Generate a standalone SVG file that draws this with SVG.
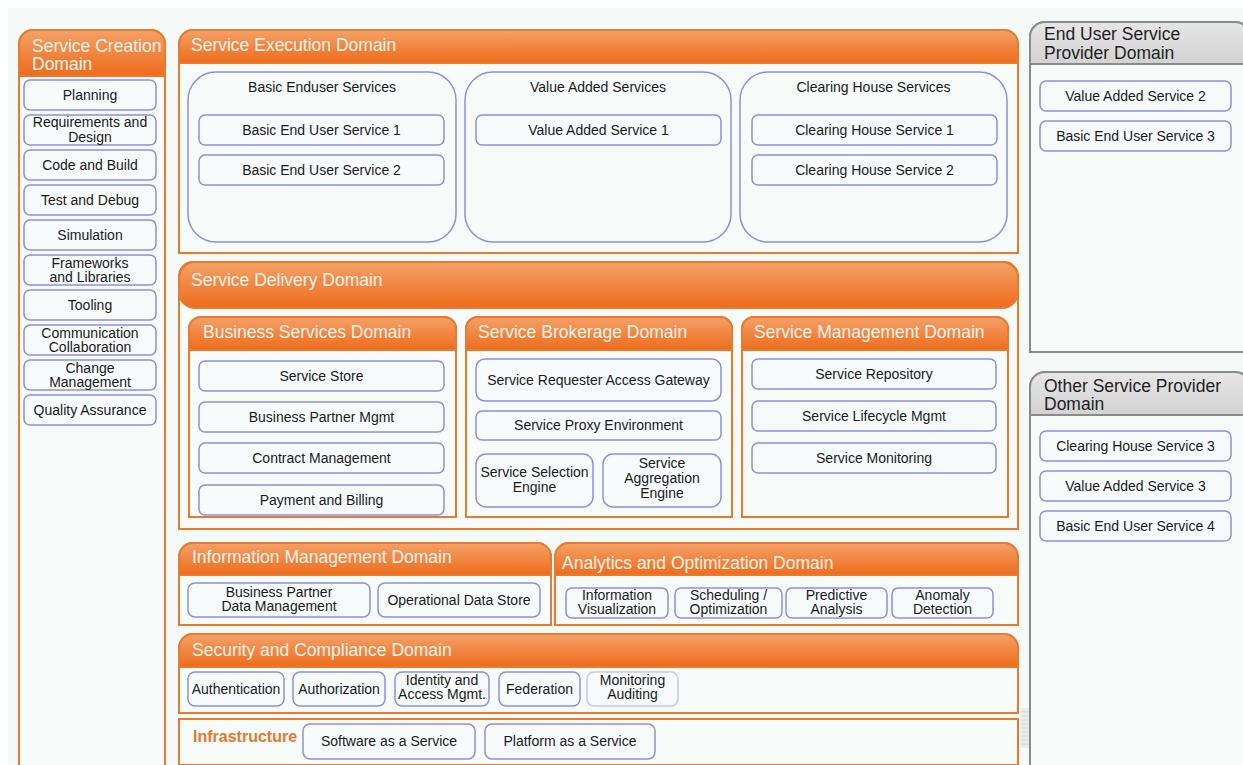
<svg xmlns="http://www.w3.org/2000/svg" width="1243" height="765" viewBox="0 0 1243 765">
  <defs>
    <linearGradient id="orangeHead" x1="0" y1="0" x2="0" y2="1">
      <stop offset="0" stop-color="#f4a168"/>
      <stop offset="1" stop-color="#ed6c1c"/>
    </linearGradient>
    <linearGradient id="grayHead" x1="0" y1="0" x2="0" y2="1">
      <stop offset="0" stop-color="#e6e6e6"/>
      <stop offset="1" stop-color="#d2d2d2"/>
    </linearGradient>
  </defs>
  <style>
    text { font-family: "Liberation Sans", Arial, sans-serif; }
    .body { fill: #f7fbfa; stroke: #ea7a2c; stroke-width: 2; }
    .head { fill: url(#orangeHead); stroke: #ea7a2c; stroke-width: 2; }
    .gbody { fill: #f7fbfa; stroke: #8a8a8a; stroke-width: 2; }
    .ghead { fill: url(#grayHead); stroke: #8a8a8a; stroke-width: 2; }
    .title { fill: #fff4ec; font-size: 17.5px; }
    .gtitle { fill: #1e1e1e; font-size: 17.5px; }
    .node { fill: #f8fbfb; stroke: #8c90e0; stroke-width: 1.5; }
    .node.faint { stroke: #c6c8ec; }
    .grp { fill: #f7fbfa; stroke: #8c90e0; stroke-width: 1.5; }
    .lbl { fill: #1a1a1a; font-size: 14px; text-anchor: middle; }
    .infra { fill: #e8782a; font-size: 16px; font-weight: bold; }
  </style>

  <!-- page -->
  <rect x="0" y="0" width="1243" height="765" fill="#ffffff"/>
  <rect x="8" y="8" width="1235" height="757" fill="#f5f9f7"/>

  <!-- Service Creation Domain -->
  <g id="service-creation">
    <path class="body" d="M19,800 V44 A14,14 0 0 1 33,30 H151 A14,14 0 0 1 165,44 V800 Z"/>
    <path class="head" d="M19,76 V44 A14,14 0 0 1 33,30 H151 A14,14 0 0 1 165,44 V76 Z"/>
    <text class="title" x="32" y="52">Service Creation</text>
    <text class="title" x="32" y="70">Domain</text>
    <g id="planning"><rect class="node" x="24" y="80" width="132" height="30" rx="6"/><text class="lbl" x="90" y="100">Planning</text></g>
    <g id="requirements"><rect class="node" x="24" y="115" width="132" height="30" rx="6"/><text class="lbl" x="90" y="127">Requirements and</text><text class="lbl" x="90" y="142">Design</text></g>
    <g id="code-build"><rect class="node" x="24" y="150" width="132" height="30" rx="6"/><text class="lbl" x="90" y="170">Code and Build</text></g>
    <g id="test-debug"><rect class="node" x="24" y="185" width="132" height="30" rx="6"/><text class="lbl" x="90" y="205">Test and Debug</text></g>
    <g id="simulation"><rect class="node" x="24" y="220" width="132" height="30" rx="6"/><text class="lbl" x="90" y="240">Simulation</text></g>
    <g id="frameworks"><rect class="node" x="24" y="255" width="132" height="30" rx="6"/><text class="lbl" x="90" y="268">Frameworks</text><text class="lbl" x="90" y="282">and Libraries</text></g>
    <g id="tooling"><rect class="node" x="24" y="290" width="132" height="30" rx="6"/><text class="lbl" x="90" y="310">Tooling</text></g>
    <g id="communication"><rect class="node" x="24" y="325" width="132" height="30" rx="6"/><text class="lbl" x="90" y="338">Communication</text><text class="lbl" x="90" y="352">Collaboration</text></g>
    <g id="change"><rect class="node" x="24" y="360" width="132" height="30" rx="6"/><text class="lbl" x="90" y="373">Change</text><text class="lbl" x="90" y="387">Management</text></g>
    <g id="quality"><rect class="node" x="24" y="395" width="132" height="30" rx="6"/><text class="lbl" x="90" y="415">Quality Assurance</text></g>
  </g>

  <!-- Service Execution Domain -->
  <g id="service-execution">
    <path class="body" d="M179,253 V44 A14,14 0 0 1 193,30 H1004 A14,14 0 0 1 1018,44 V253 Z"/>
    <path class="head" d="M179,63 V44 A14,14 0 0 1 193,30 H1004 A14,14 0 0 1 1018,44 V63 Z"/>
    <text class="title" x="191" y="51">Service Execution Domain</text>
    <g id="basic-enduser">
      <rect class="grp" x="188" y="72" width="268" height="170" rx="28"/>
      <text class="lbl" x="322" y="92">Basic Enduser Services</text>
      <rect class="node" x="199" y="115" width="245" height="30" rx="6"/><text class="lbl" x="321.5" y="135">Basic End User Service 1</text>
      <rect class="node" x="199" y="155" width="245" height="30" rx="6"/><text class="lbl" x="321.5" y="175">Basic End User Service 2</text>
    </g>
    <g id="value-added">
      <rect class="grp" x="465" y="72" width="266" height="170" rx="28"/>
      <text class="lbl" x="598" y="92">Value Added Services</text>
      <rect class="node" x="476" y="115" width="245" height="30" rx="6"/><text class="lbl" x="598.5" y="135">Value Added Service 1</text>
    </g>
    <g id="clearing-house">
      <rect class="grp" x="740" y="72" width="267" height="170" rx="28"/>
      <text class="lbl" x="873.5" y="92">Clearing House Services</text>
      <rect class="node" x="752" y="115" width="245" height="30" rx="6"/><text class="lbl" x="874.5" y="135">Clearing House Service 1</text>
      <rect class="node" x="752" y="155" width="245" height="30" rx="6"/><text class="lbl" x="874.5" y="175">Clearing House Service 2</text>
    </g>
  </g>

  <!-- Service Delivery Domain -->
  <g id="service-delivery">
    <path class="body" d="M179,529 V276 A14,14 0 0 1 193,262 H1004 A14,14 0 0 1 1018,276 V529 Z"/>
    <rect class="head" x="179" y="262" width="839" height="46" rx="16"/>
    <text class="title" x="191" y="286">Service Delivery Domain</text>

    <g id="business-services">
      <path class="body" d="M189,517 V329 A12,12 0 0 1 201,317 H444 A12,12 0 0 1 456,329 V517 Z"/>
      <path class="head" d="M189,350 V329 A12,12 0 0 1 201,317 H444 A12,12 0 0 1 456,329 V350 Z"/>
      <text class="title" x="203" y="338">Business Services Domain</text>
      <rect class="node" x="199" y="361" width="245" height="30" rx="6"/><text class="lbl" x="321.5" y="381">Service Store</text>
      <rect class="node" x="199" y="402" width="245" height="30" rx="6"/><text class="lbl" x="321.5" y="422">Business Partner Mgmt</text>
      <rect class="node" x="199" y="443" width="245" height="30" rx="6"/><text class="lbl" x="321.5" y="463">Contract Management</text>
      <rect class="node" x="199" y="485" width="245" height="30" rx="6"/><text class="lbl" x="321.5" y="505">Payment and Billing</text>
    </g>

    <g id="service-brokerage">
      <path class="body" d="M466,517 V329 A12,12 0 0 1 478,317 H720 A12,12 0 0 1 732,329 V517 Z"/>
      <path class="head" d="M466,350 V329 A12,12 0 0 1 478,317 H720 A12,12 0 0 1 732,329 V350 Z"/>
      <text class="title" x="478" y="338">Service Brokerage Domain</text>
      <rect class="node" x="476" y="359" width="245" height="42" rx="9"/><text class="lbl" x="598.5" y="385">Service Requester Access Gateway</text>
      <rect class="node" x="476" y="411" width="245" height="29" rx="6"/><text class="lbl" x="598.5" y="430">Service Proxy Environment</text>
      <rect class="node" x="476" y="454" width="117" height="53" rx="10"/><text class="lbl" x="534.5" y="477">Service Selection</text><text class="lbl" x="534.5" y="492">Engine</text>
      <rect class="node" x="603" y="454" width="118" height="53" rx="10"/><text class="lbl" x="662" y="468">Service</text><text class="lbl" x="662" y="483">Aggregation</text><text class="lbl" x="662" y="498">Engine</text>
    </g>

    <g id="service-management">
      <path class="body" d="M742,517 V329 A12,12 0 0 1 754,317 H996 A12,12 0 0 1 1008,329 V517 Z"/>
      <path class="head" d="M742,350 V329 A12,12 0 0 1 754,317 H996 A12,12 0 0 1 1008,329 V350 Z"/>
      <text class="title" x="754" y="338">Service Management Domain</text>
      <rect class="node" x="752" y="359" width="244" height="30" rx="6"/><text class="lbl" x="874" y="379">Service Repository</text>
      <rect class="node" x="752" y="401" width="244" height="30" rx="6"/><text class="lbl" x="874" y="421">Service Lifecycle Mgmt</text>
      <rect class="node" x="752" y="443" width="244" height="30" rx="6"/><text class="lbl" x="874" y="463">Service Monitoring</text>
    </g>
  </g>

  <!-- Information Management Domain -->
  <g id="information-management">
    <path class="body" d="M179,625 V557 A14,14 0 0 1 193,543 H537 A14,14 0 0 1 551,557 V625 Z"/>
    <path class="head" d="M179,575 V557 A14,14 0 0 1 193,543 H537 A14,14 0 0 1 551,557 V575 Z"/>
    <text class="title" x="192" y="563">Information Management Domain</text>
    <rect class="node" x="188" y="583" width="182" height="34" rx="7"/><text class="lbl" x="279" y="597">Business Partner</text><text class="lbl" x="279" y="611">Data Management</text>
    <rect class="node" x="378" y="583" width="162" height="34" rx="7"/><text class="lbl" x="459" y="605">Operational Data Store</text>
  </g>

  <!-- Analytics and Optimization Domain -->
  <g id="analytics-optimization">
    <path class="body" d="M555,625 V557 A14,14 0 0 1 569,543 H1004 A14,14 0 0 1 1018,557 V625 Z"/>
    <path class="head" d="M555,575 V557 A14,14 0 0 1 569,543 H1004 A14,14 0 0 1 1018,557 V575 Z"/>
    <text class="title" x="562" y="569">Analytics and Optimization Domain</text>
    <rect class="node" x="566" y="588" width="102" height="30" rx="6"/><text class="lbl" x="617" y="600">Information</text><text class="lbl" x="617" y="614">Visualization</text>
    <rect class="node" x="675" y="588" width="107" height="30" rx="6"/><text class="lbl" x="728.5" y="600">Scheduling /</text><text class="lbl" x="728.5" y="614">Optimization</text>
    <rect class="node" x="786" y="588" width="101" height="30" rx="6"/><text class="lbl" x="836.5" y="600">Predictive</text><text class="lbl" x="836.5" y="614">Analysis</text>
    <rect class="node" x="892" y="588" width="101" height="30" rx="6"/><text class="lbl" x="942.5" y="600">Anomaly</text><text class="lbl" x="942.5" y="614">Detection</text>
  </g>

  <!-- Security and Compliance Domain -->
  <g id="security-compliance">
    <path class="body" d="M179,713 V648 A14,14 0 0 1 193,634 H1004 A14,14 0 0 1 1018,648 V713 Z"/>
    <path class="head" d="M179,667 V648 A14,14 0 0 1 193,634 H1004 A14,14 0 0 1 1018,648 V667 Z"/>
    <text class="title" x="192" y="656">Security and Compliance Domain</text>
    <rect class="node" x="188" y="672" width="96" height="34" rx="7"/><text class="lbl" x="236" y="694">Authentication</text>
    <rect class="node" x="293" y="672" width="92" height="34" rx="7"/><text class="lbl" x="339" y="694">Authorization</text>
    <rect class="node" x="395" y="672" width="94" height="34" rx="7"/><text class="lbl" x="442" y="685">Identity and</text><text class="lbl" x="442" y="699">Access Mgmt.</text>
    <rect class="node" x="499" y="672" width="81" height="34" rx="7"/><text class="lbl" x="539.5" y="694">Federation</text>
    <rect class="node faint" x="587" y="672" width="91" height="34" rx="7"/><text class="lbl" x="632.5" y="685">Monitoring</text><text class="lbl" x="632.5" y="699">Auditing</text>
  </g>

  <!-- Infrastructure -->
  <g id="infrastructure">
    <rect class="body" x="179" y="719" width="839" height="46"/>
    <text class="infra" x="193" y="742">Infrastructure</text>
    <rect class="node" x="303" y="724" width="172" height="35" rx="7"/><text class="lbl" x="389" y="746">Software as a Service</text>
    <rect class="node" x="485" y="724" width="170" height="35" rx="7"/><text class="lbl" x="570" y="746">Platform as a Service</text>
  </g>

  <!-- grip marks at the right edge of the lower rows -->
  <g id="grip" stroke="#d4d8d6" stroke-width="1">
    <rect x="1021" y="708" width="8" height="40" fill="#e9eceb" stroke="none"/>
    <path d="M1021,712 H1029 M1021,716 H1029 M1021,720 H1029 M1021,724 H1029 M1021,728 H1029 M1021,732 H1029 M1021,736 H1029 M1021,740 H1029 M1021,744 H1029"/>
  </g>

  <!-- End User Service Provider Domain -->
  <g id="end-user-provider">
    <path class="gbody" d="M1030,352 V37 A15,15 0 0 1 1045,22 H1235 A15,15 0 0 1 1250,37 V352 Z"/>
    <path class="ghead" d="M1030,64 V37 A15,15 0 0 1 1045,22 H1235 A15,15 0 0 1 1250,37 V64 Z"/>
    <text class="gtitle" x="1044" y="40">End User Service</text>
    <text class="gtitle" x="1044" y="59">Provider Domain</text>
    <rect class="node" x="1040" y="81" width="191" height="30" rx="6"/><text class="lbl" x="1135.5" y="101">Value Added Service 2</text>
    <rect class="node" x="1040" y="121" width="191" height="30" rx="6"/><text class="lbl" x="1135.5" y="141">Basic End User Service 3</text>
  </g>

  <!-- Other Service Provider Domain -->
  <g id="other-provider">
    <path class="gbody" d="M1030,800 V387 A15,15 0 0 1 1045,372 H1235 A15,15 0 0 1 1250,387 V800 Z"/>
    <path class="ghead" d="M1030,415 V387 A15,15 0 0 1 1045,372 H1235 A15,15 0 0 1 1250,387 V415 Z"/>
    <text class="gtitle" x="1044" y="392">Other Service Provider</text>
    <text class="gtitle" x="1044" y="410">Domain</text>
    <rect class="node" x="1040" y="431" width="191" height="30" rx="6"/><text class="lbl" x="1135.5" y="451">Clearing House Service 3</text>
    <rect class="node" x="1040" y="471" width="191" height="30" rx="6"/><text class="lbl" x="1135.5" y="491">Value Added Service 3</text>
    <rect class="node" x="1040" y="511" width="191" height="30" rx="6"/><text class="lbl" x="1135.5" y="531">Basic End User Service 4</text>
  </g>

  <!-- no connectors in this view -->
  <g id="connectors"/>
</svg>
